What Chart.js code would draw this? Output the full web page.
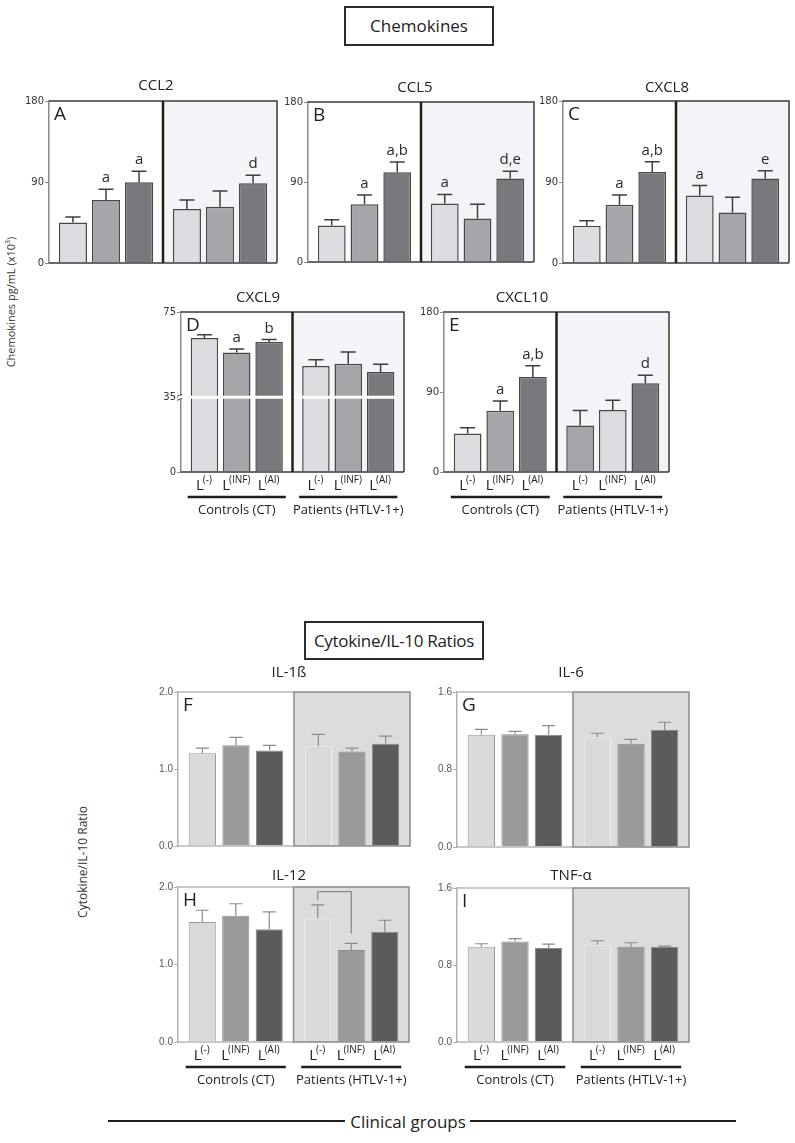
<!DOCTYPE html>
<html>
<head>
<meta charset="utf-8">
<script src="https://cdn.jsdelivr.net/npm/chart.js@4.4.1/dist/chart.umd.min.js"></script>
<style>
  body { margin: 0; background: #fff; }
  #page { position: relative; width: 795px; height: 1143px; overflow: hidden; font-family: "Open Sans", "Noto Sans", sans-serif; color: #222; }
  canvas { position: absolute; }
  .box { position: absolute; border: 2px solid #2b2b2b; box-sizing: border-box; text-align: center; font-size: 17px; white-space: nowrap; }
  .txt { position: absolute; white-space: nowrap; }
  .rot { position: absolute; white-space: nowrap; color: #333; transform: translate(-50%, -50%) rotate(-90deg); }
  .hline { position: absolute; height: 2px; background: #1e1e1e; }
</style>
</head>
<body>
<div id="page">
  <div class="box" style="left:344px;top:6px;width:150px;height:40px;line-height:36px;">Chemokines</div>
  <div class="box" style="left:304px;top:621px;width:180px;height:39px;line-height:35px;letter-spacing:-0.3px;">Cytokine/IL-10 Ratios</div>
  <div class="rot" style="left:10px;top:302px;font-size:11px;">Chemokines pg/mL (x10<sup style="font-size:7px">3</sup>)</div>
  <div class="rot" style="left:82px;top:862px;font-size:12px;">Cytokine/IL-10 Ratio</div>
  <div class="hline" style="left:108px;top:1120px;width:237px;"></div>
  <div class="hline" style="left:470px;top:1120px;width:266px;"></div>
  <div class="txt" style="left:408px;top:1121px;font-size:17px;transform:translate(-50%,-50%);">Clinical groups</div>
</div>
<script>
// groups / levels
const groups = ['Controls (CT)', 'Patients (HTLV-1+)'];
const levels = ['(-)', '(INF)', '(AI)'];

// chemokines (pg/mL x10^3): 3 control bars then 3 patient bars
const ccl2Mean = [45, 70, 89.6, 60, 62.6, 88.5];
const ccl2Top = [51, 82, 102, 70, 80, 97.4];
const ccl2Letters = ['', 'a', 'a', '', '', 'd'];

const ccl5Mean = [41, 65, 101, 65.7, 49, 94];
const ccl5Top = [47.5, 75.5, 112.5, 76, 65, 102];
const ccl5Letters = ['', 'a', 'a,b', 'a', '', 'd,e'];

const cxcl8Mean = [41.5, 64.8, 101, 75, 56, 94];
const cxcl8Top = [47, 75.6, 112.6, 86, 73, 102.6];
const cxcl8Letters = ['', 'a', 'a,b', 'a', '', 'e'];

const cxcl9Mean = [62.8, 56, 60.9, 49.7, 50.7, 46.9];
const cxcl9Top = [64.3, 57.6, 62.1, 52.6, 56.2, 50.5];
const cxcl9Letters = ['', 'a', 'b', '', '', ''];

const cxcl10Mean = [43.3, 68.9, 107, 52.3, 69.7, 99.8];
const cxcl10Top = [49.7, 79.8, 119.4, 69.3, 80.6, 108.8];
const cxcl10Letters = ['', 'a', 'a,b', '', '', 'd'];

// cytokine / IL-10 ratios
const il1Mean = [1.206, 1.31, 1.24, 1.297, 1.228, 1.328];
const il1Top = [1.271, 1.41, 1.306, 1.449, 1.271, 1.427];

const il6Mean = [1.16, 1.163, 1.16, 1.132, 1.066, 1.208];
const il6Top = [1.215, 1.194, 1.253, 1.174, 1.111, 1.288];

const il12Mean = [1.55, 1.628, 1.455, 1.597, 1.186, 1.424];
const il12Top = [1.70, 1.784, 1.68, 1.77, 1.273, 1.571];
const il12Bracket = [1.835, 1.94, 1.40]; // left end, top, right end

const tnfMean = [0.99, 1.045, 0.976, 1.01, 0.99, 0.986];
const tnfTop = [1.021, 1.073, 1.017, 1.052, 1.031, 0.997];

const chemoTicks = [0, 90, 180];
const cxcl9Ticks = [0, 35, 75];
const il1Ticks = [0, 1, 2];
const il6Ticks = [0, 0.8, 1.6];

const noLetters = ['', '', '', '', '', ''];

const look = {
  chemo: {
    fills: ['#dcdde0', '#a6a6aa', '#79797d'],
    border: '#484848', bw: 1.5, patientBg: '#f3f4f7',
    err: '#3e3e3e', errW: 1.5, cap: 15,
    axis: '#8a8a8a', frame: '#3a3a3a', divider: '#1e1e1e', dividerW: 2.5,
    tickFont: { family: 'DejaVu Sans', size: 10 }, tickColor: '#333',
    barPct: 0.85, catPct: 0.87
  },
  cyto: {
    fills: ['#dadadb', '#9a9a9b', '#5b5b5d'],
    border: '#8a8a8a', bw: 1, patientBg: '#dcdcde',
    err: '#8a8a8a', errW: 1.2, cap: 13,
    axis: '#b0b0b0', frame: '#b8b8b8', divider: '#8a8a8a', dividerW: 1.5,
    tickFont: { family: 'Liberation Sans', size: 10 }, tickColor: '#555',
    barPct: 0.81, catPct: 0.87
  }
};

const panels = [
  { title: 'CCL2', label: 'A', kind: 'chemo', box: [49, 101, 228, 162], titleAt: [156, 86], max: 180, ticks: chemoTicks, mean: ccl2Mean, top: ccl2Top, letters: ccl2Letters },
  { title: 'CCL5', label: 'B', kind: 'chemo', box: [308, 102, 226, 160], titleAt: [415, 88], max: 180, ticks: chemoTicks, mean: ccl5Mean, top: ccl5Top, letters: ccl5Letters },
  { title: 'CXCL8', label: 'C', kind: 'chemo', box: [563, 101, 226, 162], titleAt: [667, 88], max: 180, ticks: chemoTicks, mean: cxcl8Mean, top: cxcl8Top, letters: cxcl8Letters },
  { title: 'CXCL9', label: 'D', kind: 'chemo', box: [181, 312, 223, 160], titleAt: [258, 298], max: 75, ticks: cxcl9Ticks, mean: cxcl9Mean, top: cxcl9Top, letters: cxcl9Letters, xLabels: true, brk: 35 },
  { title: 'CXCL10', label: 'E', kind: 'chemo', box: [444, 312, 225, 160], titleAt: [522, 298], max: 180, ticks: chemoTicks, mean: cxcl10Mean, top: cxcl10Top, letters: cxcl10Letters, xLabels: true, shade: [0, 1, 2, 1, 0, 2] },
  { title: 'IL-1ß', label: 'F', kind: 'cyto', box: [178, 692, 232, 154], titleAt: [289, 673], max: 2, ticks: il1Ticks, mean: il1Mean, top: il1Top, letters: noLetters, fmt: 1 },
  { title: 'IL-6', label: 'G', kind: 'cyto', box: [457, 692, 232, 155], titleAt: [571, 673], max: 1.6, ticks: il6Ticks, mean: il6Mean, top: il6Top, letters: noLetters, fmt: 1 },
  { title: 'IL-12', label: 'H', kind: 'cyto', box: [178, 887, 231, 155], titleAt: [289, 876], max: 2, ticks: il1Ticks, mean: il12Mean, top: il12Top, letters: noLetters, fmt: 1, xLabels: true, bracket: il12Bracket },
  { title: 'TNF-α', label: 'I', kind: 'cyto', box: [457, 888, 232, 154], titleAt: [571, 876], max: 1.6, ticks: il6Ticks, mean: tnfMean, top: tnfTop, letters: noLetters, fmt: 1, xLabels: true }
];

const FONT = '"Open Sans", "Noto Sans", sans-serif';
const PADL = 35, PADT = 40, PADR = 6;

const panelDeco = {
  id: 'panelDeco',
  beforeDraw(chart, args, o) {
    const { ctx, chartArea: a } = chart;
    const L = look[o.kind];
    const xs = chart.scales.x;
    const mid = (xs.getPixelForValue(0) + xs.getPixelForValue(1)) / 2;
    ctx.save();
    ctx.fillStyle = '#fff';
    ctx.fillRect(a.left, a.top, mid - a.left, a.bottom - a.top);
    ctx.fillStyle = L.patientBg;
    ctx.fillRect(mid, a.top, a.right - mid, a.bottom - a.top);
    ctx.restore();
  },
  afterDatasetsDraw(chart, args, o) {
    const { ctx, chartArea: a } = chart;
    const L = look[o.kind];
    const xs = chart.scales.x, ys = chart.scales.y;
    const mid = (xs.getPixelForValue(0) + xs.getPixelForValue(1)) / 2;
    ctx.save();

    // axis break
    if (o.brk !== undefined) {
      const yb = ys.getPixelForValue(o.brk);
      const last = chart.getDatasetMeta(2).data[1];
      ctx.strokeStyle = '#fff';
      ctx.lineWidth = 3;
      ctx.beginPath(); ctx.moveTo(a.left - 3, yb); ctx.lineTo(last.x + last.width / 2 + 1, yb); ctx.stroke();
      ctx.strokeStyle = '#555';
      ctx.lineWidth = 1;
      ctx.beginPath();
      ctx.moveTo(a.left - 4, yb - 1); ctx.lineTo(a.left + 1, yb - 3);
      ctx.moveTo(a.left - 4, yb + 3); ctx.lineTo(a.left + 1, yb + 1);
      ctx.stroke();
    }

    // frame
    ctx.lineWidth = 1.5;
    ctx.strokeStyle = L.frame;
    ctx.beginPath();
    ctx.moveTo(a.left, a.top); ctx.lineTo(o.kind === 'cyto' ? mid : a.right, a.top);
    if (o.kind === 'chemo') { ctx.lineTo(a.right, a.bottom); }
    ctx.moveTo(a.left, a.bottom); ctx.lineTo(o.kind === 'cyto' ? mid : a.right, a.bottom);
    ctx.stroke();
    if (o.kind === 'cyto') {
      ctx.strokeStyle = L.divider;
      ctx.lineWidth = 1.5;
      ctx.strokeRect(mid, a.top, a.right - mid, a.bottom - a.top);
    } else {
      ctx.strokeStyle = L.divider;
      ctx.lineWidth = L.dividerW;
      ctx.beginPath(); ctx.moveTo(mid, a.top); ctx.lineTo(mid, a.bottom); ctx.stroke();
    }

    // error bars + letters
    for (let k = 0; k < 3; k++) {
      const meta = chart.getDatasetMeta(k);
      for (let j = 0; j < 2; j++) {
        const bar = meta.data[j];
        const i = k + 3 * j;
        const yt = ys.getPixelForValue(o.top[i]);
        ctx.strokeStyle = L.err;
        ctx.lineWidth = L.errW;
        ctx.beginPath();
        ctx.moveTo(bar.x, bar.y); ctx.lineTo(bar.x, yt);
        ctx.moveTo(bar.x - L.cap / 2, yt); ctx.lineTo(bar.x + L.cap / 2, yt);
        ctx.stroke();
        if (o.letters[i]) {
          ctx.fillStyle = '#2a2a2a';
          ctx.font = '15px ' + FONT;
          ctx.textAlign = 'center';
          ctx.textBaseline = 'alphabetic';
          ctx.fillText(o.letters[i], bar.x, yt - 7);
        }
      }
    }

    // bracket
    if (o.bracket) {
      const b0 = chart.getDatasetMeta(0).data[1], b1 = chart.getDatasetMeta(1).data[1];
      ctx.strokeStyle = '#777';
      ctx.lineWidth = 1;
      ctx.beginPath();
      ctx.moveTo(b0.x, ys.getPixelForValue(o.bracket[0]));
      ctx.lineTo(b0.x, ys.getPixelForValue(o.bracket[1]));
      ctx.lineTo(b1.x, ys.getPixelForValue(o.bracket[1]));
      ctx.lineTo(b1.x, ys.getPixelForValue(o.bracket[2]));
      ctx.stroke();
    }

    // panel letter
    ctx.fillStyle = '#222';
    ctx.font = '19px ' + FONT;
    ctx.textAlign = 'left';
    ctx.textBaseline = 'top';
    ctx.fillText(o.label, a.left + 5, a.top + 4);

    // title
    const cv = chart.canvas;
    const ox = parseFloat(cv.style.left), oy = parseFloat(cv.style.top);
    ctx.font = '15px ' + FONT;
    ctx.textAlign = 'center';
    ctx.textBaseline = 'middle';
    ctx.fillText(o.title, o.titleAt[0] - ox, o.titleAt[1] - oy);

    // x labels and groups
    if (o.xLabels) {
      for (let j = 0; j < 2; j++) {
        for (let k = 0; k < 3; k++) {
          const bar = chart.getDatasetMeta(k).data[j];
          ctx.font = '15px ' + FONT;
          const wL = ctx.measureText('L').width;
          ctx.font = '10px ' + FONT;
          const wS = ctx.measureText(levels[k]).width;
          const x0 = bar.x - (wL + wS) / 2;
          ctx.textAlign = 'left';
          ctx.textBaseline = 'alphabetic';
          ctx.font = '15px ' + FONT;
          ctx.fillText('L', x0, a.bottom + 18);
          ctx.font = '10px ' + FONT;
          ctx.fillText(levels[k], x0 + wL - 1, a.bottom + 11);
        }
        const first = chart.getDatasetMeta(0).data[j], last = chart.getDatasetMeta(2).data[j];
        const l = first.x - first.width / 2 - 3, r = last.x + last.width / 2 + 3;
        ctx.strokeStyle = '#1e1e1e';
        ctx.lineWidth = 2.5;
        ctx.beginPath(); ctx.moveTo(l, a.bottom + 25); ctx.lineTo(r, a.bottom + 25); ctx.stroke();
        ctx.font = '13px ' + FONT;
        ctx.textAlign = 'center';
        ctx.textBaseline = 'middle';
        ctx.fillText(groups[j], (l + r) / 2, a.bottom + 38);
      }
    }
    ctx.restore();
  }
};

const page = document.getElementById('page');

panels.forEach(p => {
  const L = look[p.kind];
  const [bx, by, bw, bh] = p.box;
  const padB = p.xLabels ? 50 : 8;
  const cv = document.createElement('canvas');
  const W = bw + PADL + PADR, H = bh + PADT + padB;
  cv.width = W; cv.height = H;
  cv.style.width = W + 'px'; cv.style.height = H + 'px';
  cv.style.left = (bx - PADL) + 'px';
  cv.style.top = (by - PADT) + 'px';
  page.appendChild(cv);

  const shade = p.shade || [0, 1, 2, 0, 1, 2];
  const datasets = [0, 1, 2].map(k => ({
    label: 'L' + levels[k],
    data: [p.mean[k], p.mean[k + 3]],
    backgroundColor: [L.fills[shade[k]], L.fills[shade[k + 3]]],
    borderColor: p.kind === 'cyto' && shade[k + 3] === 0 ? ['#9a9a9a', '#f0f0f0'] : L.border,
    borderWidth: L.bw,
    borderSkipped: 'bottom',
    barPercentage: L.barPct,
    categoryPercentage: L.catPct
  }));

  new Chart(cv, {
    type: 'bar',
    data: { labels: groups, datasets },
    options: {
      responsive: false,
      animation: false,
      layout: { padding: { left: 5, top: PADT, right: PADR, bottom: padB } },
      plugins: {
        legend: { display: false },
        tooltip: { enabled: false },
        panelDeco: p
      },
      scales: {
        x: { display: false },
        y: {
          min: 0, max: p.max,
          afterFit(scale) { scale.width = PADL - 5; },
          afterBuildTicks(scale) { scale.ticks = p.ticks.map(v => ({ value: v })); },
          border: { display: true, color: L.axis, width: 1.5 },
          grid: { display: true, drawOnChartArea: false, drawTicks: true, tickLength: 4, color: L.axis },
          ticks: {
            font: L.tickFont, color: L.tickColor, padding: 1,
            callback: v => p.fmt ? v.toFixed(1) : v
          }
        }
      }
    },
    plugins: [panelDeco]
  });
});
</script>
</body>
</html>
